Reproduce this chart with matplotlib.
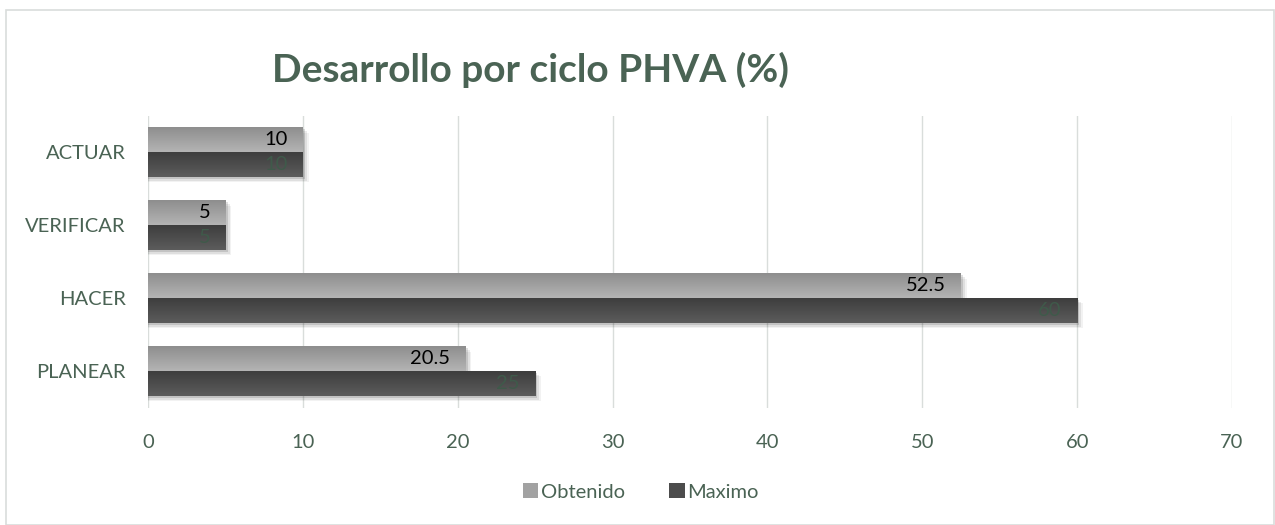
import numpy as np
import matplotlib.pyplot as plt
from matplotlib.patches import Patch, Rectangle
from matplotlib.colors import LinearSegmentedColormap

categorias = ["PLANEAR", "HACER", "VERIFICAR", "ACTUAR"]
obtenido = [20.5, 52.5, 5, 10]
maximo = [25, 60, 5, 10]
series = ["Obtenido", "Maximo"]
x_ticks = [0, 10, 20, 30, 40, 50, 60, 70]

verde = "#4A6354"
plt.rcParams["font.family"] = ["Lato", "DejaVu Sans"]

fig = plt.figure(figsize=(12.75, 5.25), dpi=100)
fig.patches.append(Rectangle((6 / 1275, 0.0), 1 - 7 / 1275, 1 - 10 / 525,
                             transform=fig.transFigure, fill=False,
                             edgecolor="#D9DDDB", lw=1.2))
ax = fig.add_axes([148 / 1275, 1 - 407.5 / 525, (1232 - 148) / 1275, 292 / 525])

cmap_claro = LinearSegmentedColormap.from_list("claro", ["#B4B4B4", "#8E8E8E"])
cmap_oscuro = LinearSegmentedColormap.from_list("oscuro", ["#5C5C5C", "#3E3E3E"])
grad = np.linspace(0, 1, 64).reshape(-1, 1)

h = 0.342
y = np.arange(len(categorias))

def barra(valor, y0, cmap):
    # sombra suave
    for k, a in enumerate([0.12, 0.08, 0.05]):
        d = 0.15 + 0.12 * k
        ax.add_patch(Rectangle((0, y0 - 0.025 - 0.025 * k), valor + d, h,
                               facecolor="black", alpha=a, lw=0, zorder=2))
    ax.imshow(grad, extent=[0, valor, y0 + h, y0], aspect="auto",
              cmap=cmap, zorder=3, interpolation="bicubic")

for i, cat in enumerate(categorias):
    barra(obtenido[i], y[i], cmap_claro)
    barra(maximo[i], y[i] - h, cmap_oscuro)
    ax.annotate(f"{obtenido[i]:g}", (obtenido[i], y[i] + h / 2),
                xytext=(-11, 0), textcoords="offset points", ha="right",
                va="center", fontsize=14.5, color="black", zorder=5)
    ax.annotate(f"{maximo[i]:g}", (maximo[i], y[i] - h / 2),
                xytext=(-11, 0), textcoords="offset points", ha="right",
                va="center", fontsize=14.5, color="#3F5A4A", zorder=5)

ax.set_xlim(0, 70)
ax.set_ylim(-0.5, len(categorias) - 0.5)
ax.set_xticks(x_ticks)
ax.set_yticks(y)
ax.set_yticklabels(categorias)
ax.tick_params(axis="both", length=0, labelsize=14.5, labelcolor=verde)
ax.tick_params(axis="x", pad=19)
ax.tick_params(axis="y", pad=16)
ax.grid(axis="x", color="#D9DDDB", lw=1, zorder=0)
ax.set_axisbelow(True)
for s in ax.spines.values():
    s.set_visible(False)

fig.text(531 / 1275, 1 - 70 / 525, "Desarrollo por ciclo PHVA (%)",
         ha="center", va="center", fontsize=28, fontweight="bold", color=verde)

handles = [Patch(facecolor="#A2A2A2"), Patch(facecolor="#4C4C4C")]
fig.legend(handles, series, loc="center", bbox_to_anchor=(641 / 1275, 1 - 492 / 525),
           ncol=2, frameon=False, fontsize=14.5, labelcolor=verde,
           handlelength=0.75, handleheight=0.75, handletextpad=0.15, columnspacing=2.2)

fig.savefig("out.png", dpi=100)
